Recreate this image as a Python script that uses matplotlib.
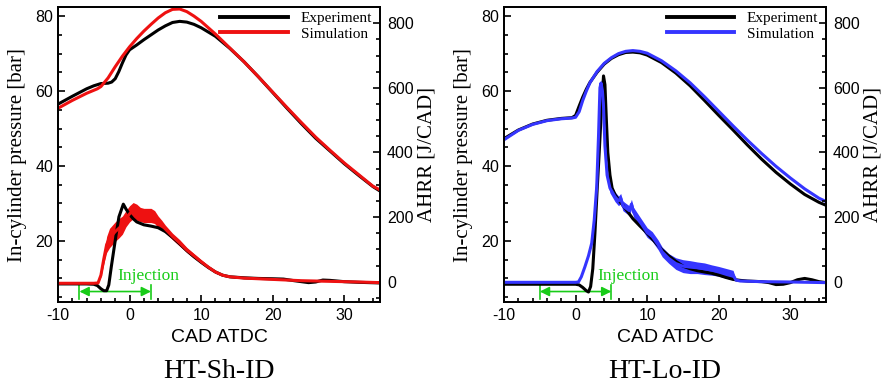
import numpy as np
import matplotlib
matplotlib.use("Agg")
import matplotlib.pyplot as plt
from matplotlib.ticker import MultipleLocator

plt.rcParams['axes.unicode_minus'] = False
plt.rcParams['font.family'] = 'Liberation Sans'

SERIF = 'Liberation Serif'
GREEN = '#18cc18'

# ---------------- HT-Sh-ID ----------------
sh_p_exp_cad = [-10, -8, -6, -5, -4, -3, -2.5, -2, -1.5, -1, -0.5, 0, 1, 2, 3, 4, 5, 6, 7, 8,
                9, 10, 12, 14, 16, 18, 20, 22, 24, 26, 28, 30, 32, 34, 35]
sh_p_exp = [56.5, 58.6, 60.6, 61.4, 62.0, 62.1, 62.4, 63.3, 65.2, 67.5, 69.6, 71.0, 72.3, 73.7,
            75.0, 76.3, 77.4, 78.3, 78.6, 78.4, 77.8, 76.9, 74.6, 71.4, 67.8, 63.8, 59.6, 55.4,
            51.3, 47.4, 44.0, 40.6, 37.5, 34.5, 33.3]
sh_p_sim_cad = [-10, -8, -6, -4.5, -4, -3, -2, -1, 0, 1, 2, 3, 4, 5, 6, 7, 8, 9, 10, 12, 14,
                16, 18, 20, 22, 24, 26, 28, 30, 32, 34, 35]
sh_p_sim = [55.4, 57.5, 59.4, 60.6, 61.2, 63.5, 66.5, 69.3, 71.8, 74.0, 76.0, 77.8, 79.5, 80.9,
            81.8, 81.9, 81.2, 80.0, 78.6, 75.2, 71.5, 67.8, 63.8, 59.7, 55.6, 51.6, 47.7, 44.2,
            40.8, 37.7, 34.6, 33.6]

sh_hrr_exp_cad = [-10, -6, -5, -4.5, -4, -3.6, -3.2, -2.9, -2.55, -1.85, -1.48, -0.87, -0.5, 0,
                  0.5, 1, 2, 3, 4, 5, 6, 7, 8, 9, 10, 11, 12, 13, 14, 16, 18, 20, 21.5, 23, 24,
                  25, 26, 27, 28, 30, 32, 35]
sh_hrr_exp = [-7, -7, -8, -12, -22, -28, -28, -10, 46, 150, 201, 240, 225, 208, 195, 185, 176,
              172, 167, 155, 137, 117, 96, 77, 60, 44, 30, 20, 15, 12, 10, 9, 8, 3, 0, -3, -1,
              5, 4, 0, -2, -4]
sh_hrr_sim_cad = [-10, -5, -4.4, -4, -3.6, -3.2, -2.8, -2.4, -2, -1.5, -1, -0.5, 0, 0.5, 1, 1.5,
                  2, 2.5, 3, 3.5, 4, 4.5, 5, 6, 7, 8, 9, 10, 11, 12, 13, 14, 16, 18, 20, 22, 24,
                  26, 28, 30, 32, 35]
sh_hrr_sim = [-5, -5, -4, 20, 70, 115, 135, 145, 155, 165, 175, 195, 210, 220, 215, 208, 205,
              205, 205, 200, 185, 175, 163, 140, 120, 98, 80, 62, 45, 30, 20, 15, 11, 9, 7, 5,
              3, 2, 1, 0, -1, -3]
# half-width of the oscillation band around the simulated heat release
sh_hrr_sim_band = [0, 0, 0, 5, 15, 25, 30, 30, 30, 30, 28, 25, 25, 25, 25, 22, 22, 22, 22, 20,
                   18, 15, 12, 10, 10, 8, 7, 6, 5, 4, 3, 2, 2, 0, 0, 0, 0, 0, 0, 0, 0, 0]

# ---------------- HT-Lo-ID ----------------
lo_p_exp_cad = [-10, -8, -6, -4, -2, -0.5, 0, 0.5, 1, 1.5, 2, 3, 4, 5, 6, 7, 8, 9, 10, 12, 14,
                16, 18, 20, 22, 24, 26, 28, 30, 32, 34, 35]
lo_p_exp = [47.3, 49.6, 51.2, 52.2, 52.7, 52.9, 53.5, 56.0, 58.4, 60.5, 62.3, 65.0, 67.2, 68.7,
            69.7, 70.3, 70.4, 70.2, 69.6, 67.6, 64.8, 61.4, 57.5, 53.5, 49.6, 45.6, 41.8, 38.3,
            35.2, 32.4, 30.3, 29.5]
lo_p_sim_cad = [-10, -8, -6, -4, -2, -0.5, 0, 0.5, 1, 1.5, 2, 3, 4, 5, 6, 7, 8, 9, 10, 12, 14,
                16, 18, 20, 22, 24, 26, 28, 30, 32, 34, 35]
lo_p_sim = [47.0, 49.5, 51.1, 52.1, 52.6, 52.8, 53.0, 54.5, 57.5, 60.0, 62.2, 65.2, 67.4, 68.9,
            70.0, 70.6, 70.8, 70.6, 70.1, 68.1, 65.4, 62.2, 58.5, 54.6, 50.7, 46.9, 43.3, 39.9,
            36.8, 33.9, 31.4, 30.5]

lo_hrr_exp_cad = [-10, 0, 0.5, 1, 1.5, 1.8, 2.1, 2.4, 2.7, 3.0, 3.3, 3.6, 3.9, 4.1, 4.3, 4.5,
                  4.8, 5.1, 5.5, 6, 7, 8, 9, 10, 11, 12, 13, 14, 15, 16, 17, 18, 19, 20, 21, 22,
                  23, 24, 26, 27, 28, 29, 30, 31, 32, 33, 34, 35]
lo_hrr_exp = [-8, -8, -10, -18, -28, -32, -15, 40, 150, 280, 400, 530, 637, 610, 500, 400, 330,
              290, 270, 253, 225, 195, 172, 150, 125, 100, 80, 63, 48, 40, 34, 30, 26, 20, 13, 7,
              4, 2, 0, -3, -9, -8, -3, 6, 10, 6, 0, -3]
lo_hrr_sim_cad = [-10, 0, 0.4, 0.8, 1.3, 1.8, 2.25, 2.6, 2.95, 3.2, 3.4, 3.55, 3.75, 3.9, 4.1,
                  4.4, 4.8, 5.5, 6, 6.3, 6.6, 7, 7.5, 7.8, 8.1, 9, 10, 10.7, 11.5, 12.1, 13, 14,
                  15, 16, 17, 18, 19, 20, 21, 22, 22.4, 23, 26, 30, 35]
lo_hrr_sim = [-2, -2, -1, 15, 46, 80, 119, 190, 294, 450, 600, 615, 590, 542, 420, 330, 290,
              263, 250, 258, 235, 228, 220, 240, 215, 185, 152, 140, 115, 92, 72, 56, 48, 45,
              43, 40, 36, 32, 26, 20, 5, 2, 0, -1, -3]
lo_hrr_sim_band = [0, 0, 0, 0, 0, 0, 0, 2, 5, 8, 10, 10, 12, 14, 15, 15, 15, 15, 15, 15, 15, 15,
                   15, 15, 15, 15, 15, 15, 15, 15, 15, 18, 20, 20, 18, 18, 16, 15, 15, 15, 3, 0,
                   0, 0, 0]

# injection window [start, end] in CAD ATDC
inj_sh = [-7.0, 3.0]
inj_lo = [-5.0, 5.0]

cases = [
    dict(title='HT-Sh-ID', color='#ee1111', left=0.0655, inj_text_x=2.6,
         p_exp=(sh_p_exp_cad, sh_p_exp), p_sim=(sh_p_sim_cad, sh_p_sim),
         h_exp=(sh_hrr_exp_cad, sh_hrr_exp), h_sim=(sh_hrr_sim_cad, sh_hrr_sim, sh_hrr_sim_band),
         inj=inj_sh),
    dict(title='HT-Lo-ID', color='#3535ff', left=0.5695, inj_text_x=7.4,
         p_exp=(lo_p_exp_cad, lo_p_exp), p_sim=(lo_p_sim_cad, lo_p_sim),
         h_exp=(lo_hrr_exp_cad, lo_hrr_exp), h_sim=(lo_hrr_sim_cad, lo_hrr_sim, lo_hrr_sim_band),
         inj=inj_lo),
]

fig = plt.figure(figsize=(8.85, 3.87), dpi=100)

for c in cases:
    ax = fig.add_axes([c['left'], 0.2196, 0.364, 0.762])
    ax2 = ax.twinx()

    ax.plot(*c['p_exp'], color='black', lw=2.2, label='Experiment')
    ax.plot(*c['p_sim'], color=c['color'], lw=2.2, label='Simulation')

    ax2.plot(*c['h_exp'], color='black', lw=2.2)
    cad, hrr, band = (np.array(v, dtype=float) for v in c['h_sim'])
    ax2.fill_between(cad, hrr - band, hrr + band, color=c['color'], lw=0)
    ax2.plot(cad, hrr, color=c['color'], lw=2.2)

    ax.set_xlim(-10, 35)
    ax.set_ylim(3.7, 82.4)
    ax2.set_ylim(-63, 850)

    ax.xaxis.set_major_locator(MultipleLocator(10))
    ax.xaxis.set_minor_locator(MultipleLocator(2))
    ax.yaxis.set_major_locator(MultipleLocator(20))
    ax.yaxis.set_minor_locator(MultipleLocator(5))
    ax2.yaxis.set_major_locator(MultipleLocator(200))
    ax2.yaxis.set_minor_locator(MultipleLocator(50))

    ax.tick_params(which='both', direction='in', top=False, right=False, labelsize=11.5, width=1.2)
    ax.tick_params(which='major', length=5)
    ax.tick_params(which='minor', length=3)
    ax.tick_params(axis='x', pad=4)
    ax2.tick_params(which='both', direction='in', labelsize=11.5, width=1.2, pad=5)
    ax2.tick_params(which='major', length=5)
    ax2.tick_params(which='minor', length=3)
    for a in (ax, ax2):
        for s in a.spines.values():
            s.set_linewidth(1.3)

    # injection window marker
    x0, x1 = c['inj']
    ax.plot([x0, x0], [4.5, 8.3], color=GREEN, lw=1.2)
    ax.plot([x1, x1], [4.5, 8.3], color=GREEN, lw=1.2)
    ax.annotate('', xy=(x0, 6.5), xytext=(x1, 6.5),
                arrowprops=dict(arrowstyle='<|-|>', color=GREEN, lw=1.2,
                                mutation_scale=14, shrinkA=0, shrinkB=0))
    # drawn on the twin axes so it sits above the heat-release curves
    ax2.text(c['inj_text_x'], 9.5, 'Injection', color=GREEN, family=SERIF, fontsize=12.5,
             ha='center', va='baseline', transform=ax.transData, zorder=5)

    ax.text(0.5, -0.119, 'CAD ATDC', transform=ax.transAxes, fontsize=14,
            ha='center', va='center')
    ax.text(-0.127, 0.5, 'In-cylinder pressure [bar]', transform=ax.transAxes, rotation=90,
            family=SERIF, fontsize=15, ha='center', va='center')
    ax.text(1.146, 0.5, 'AHRR [J/CAD]', transform=ax.transAxes, rotation=90,
            family=SERIF, fontsize=15, ha='center', va='center')

    leg = ax.legend(loc='upper right', bbox_to_anchor=(0.975, 0.985), frameon=False,
                    prop=dict(family=SERIF, size=11), handlelength=4.4, handletextpad=0.85,
                    labelspacing=0.12, borderpad=0, borderaxespad=0)
    for line in leg.get_lines():
        line.set_linewidth(2.8)

    fig.text(c['left'] + 0.182, 0.04, c['title'], family=SERIF, fontsize=20,
             ha='center', va='center')

fig.savefig('out.png', dpi=100)
